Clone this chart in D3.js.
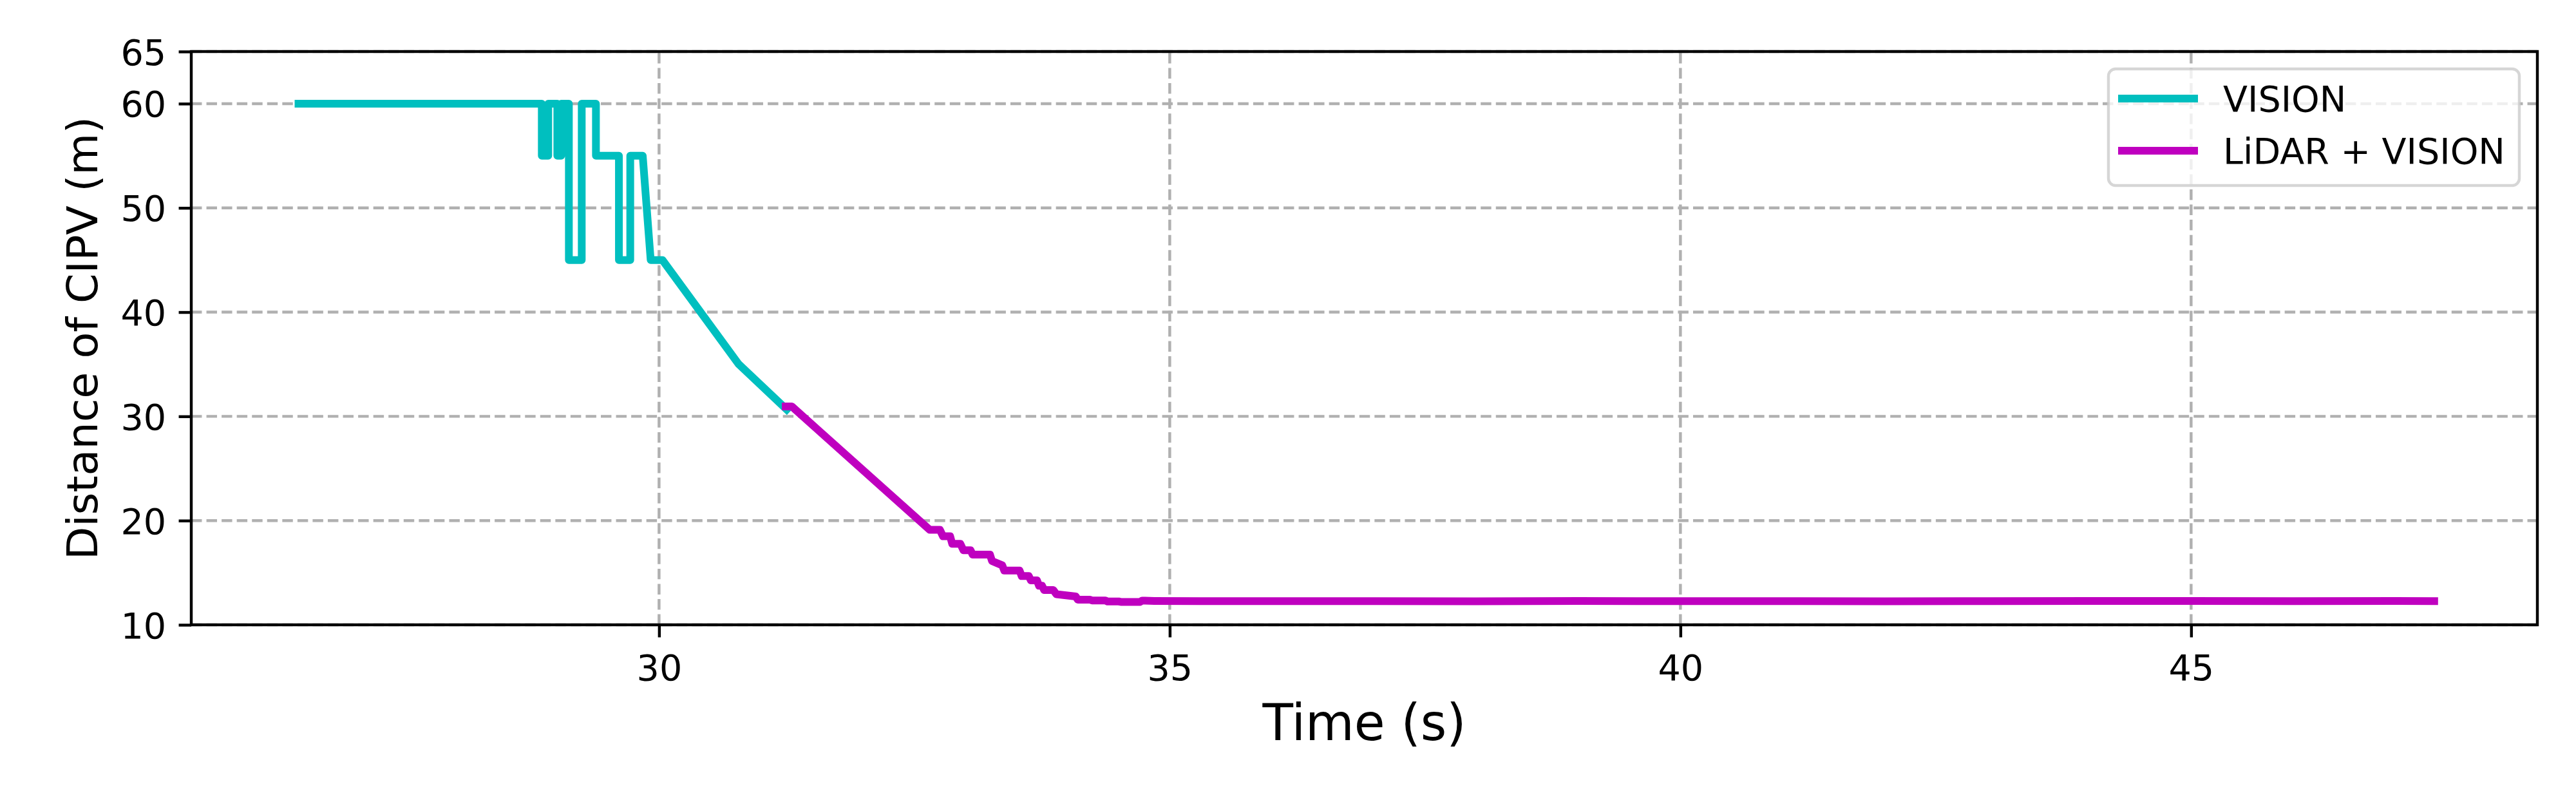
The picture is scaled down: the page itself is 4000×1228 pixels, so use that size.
<!DOCTYPE html>
<html>
<head>
<meta charset="utf-8">
<script src="https://cdn.jsdelivr.net/npm/d3@7"></script>
<style>
  html, body { margin: 0; padding: 0; background: #fff; }
  svg { display: block; font-family: "DejaVu Sans", sans-serif; }
</style>
</head>
<body>
<svg id="chart" width="4000" height="1228"></svg>
<script>
// ---- data ----
const visionTime = [26.47, 28.852, 28.852, 28.915, 28.915, 29.004, 29.004, 29.042, 29.042, 29.117, 29.117, 29.243, 29.243, 29.382, 29.382, 29.607, 29.607, 29.718, 29.718, 29.84, 29.918, 30.033, 30.78, 31.25];
const visionDist = [60, 60, 55, 55, 60, 60, 55, 55, 60, 60, 45, 45, 60, 60, 55, 55, 45, 45, 55, 55, 45, 45, 35.0, 30.65];

const lidarTime = [31.24, 31.30, 32.65, 32.75, 32.78, 32.85, 32.87, 32.95, 32.98, 33.05, 33.07, 33.24, 33.26, 33.36, 33.38, 33.53, 33.55, 33.62, 33.64, 33.70, 33.72, 33.75, 33.77, 33.86, 33.89, 34.08, 34.10, 34.22, 34.24, 34.37, 34.39, 34.50, 34.52, 34.71, 34.73, 34.85, 35.3, 36.0, 37.0, 38.0, 39.0, 40.0, 41.0, 42.0, 43.0, 44.0, 45.0, 46.0, 47.0, 47.38];
const lidarDist = [30.95, 30.95, 19.11, 19.11, 18.49, 18.49, 17.77, 17.77, 17.15, 17.15, 16.74, 16.74, 16.12, 15.71, 15.2, 15.2, 14.68, 14.68, 14.27, 14.27, 13.75, 13.75, 13.34, 13.34, 12.93, 12.72, 12.41, 12.41, 12.33, 12.33, 12.24, 12.24, 12.2, 12.2, 12.32, 12.29, 12.27, 12.27, 12.27, 12.26, 12.28, 12.27, 12.27, 12.26, 12.27, 12.28, 12.28, 12.27, 12.28, 12.27];

const xTicks = [30, 35, 40, 45];
const yTicks = [10, 20, 30, 40, 50, 60, 65];
const seriesNames = ["VISION", "LiDAR + VISION"];
const seriesColors = ["#00bfbf", "#bf00bf"];

// ---- layout ----
const L = 297, R = 3940, T = 80, B = 970;
const px = 400 / 72; // points -> pixels
const tickFont = 10 * px, labelFontY = 12 * px, labelFontX = 14 * px;
const thin = 0.8 * px;

const svg = d3.select("#chart");
const x = d3.scaleLinear().domain([25.42, 48.39]).range([L, R]);
const y = d3.scaleLinear().domain([10, 65]).range([B, T]);

// grid
const grid = svg.append("g").attr("stroke", "#b0b0b0").attr("stroke-width", thin)
  .attr("stroke-dasharray", `${3.7 * thin} ${1.6 * thin}`).attr("fill", "none");
grid.selectAll("line.h").data(yTicks).join("line").attr("class", "h")
  .attr("x1", L).attr("x2", R).attr("y1", d => y(d)).attr("y2", d => y(d));
grid.selectAll("line.v").data(xTicks).join("line").attr("class", "v")
  .attr("x1", d => x(d)).attr("x2", d => x(d)).attr("y1", B).attr("y2", T);

// data lines
const line = d3.line().x(d => x(d[0])).y(d => y(d[1]));
const vision = visionTime.map((t, i) => [t, visionDist[i]]);
const lidar = lidarTime.map((t, i) => [t, lidarDist[i]]);
[vision, lidar].forEach((pts, i) => {
  svg.append("path").attr("d", line(pts)).attr("fill", "none")
    .attr("stroke", seriesColors[i]).attr("stroke-width", 12)
    .attr("stroke-linejoin", "round").attr("stroke-linecap", "square");
});

// axes
const xAxis = svg.append("g").attr("transform", `translate(0,${B})`)
  .call(d3.axisBottom(x).tickValues(xTicks).tickSize(3.5 * px).tickSizeOuter(0).tickFormat(d3.format("d")));
xAxis.select(".domain").remove();
xAxis.selectAll(".tick line").attr("stroke", "#000").attr("stroke-width", thin);
xAxis.selectAll(".tick text").attr("y", 86).attr("dy", null)
  .attr("font-size", tickFont).attr("font-family", "DejaVu Sans").attr("fill", "#000");

const yAxis = svg.append("g").attr("transform", `translate(${L},0)`)
  .call(d3.axisLeft(y).tickValues(yTicks).tickSize(3.5 * px).tickPadding(3.5 * px).tickSizeOuter(0).tickFormat(d3.format("d")));
yAxis.select(".domain").remove();
yAxis.selectAll(".tick line").attr("stroke", "#000").attr("stroke-width", thin);
yAxis.selectAll(".tick text").attr("dy", "0.36em")
  .attr("font-size", tickFont).attr("font-family", "DejaVu Sans").attr("fill", "#000");

// spines
svg.append("rect").attr("x", L).attr("y", T).attr("width", R - L).attr("height", B - T)
  .attr("fill", "none").attr("stroke", "#000").attr("stroke-width", thin);

// axis labels
svg.append("text").attr("x", (L + R) / 2).attr("y", 1149).attr("text-anchor", "middle")
  .attr("font-size", labelFontX).attr("fill", "#000").text("Time (s)");
svg.append("text").attr("transform", `translate(151,${(T + B) / 2}) rotate(-90)`)
  .attr("text-anchor", "middle").attr("font-size", labelFontY).attr("fill", "#000")
  .text("Distance of CIPV (m)");

// legend
const lg = svg.append("g");
lg.append("rect").attr("x", 3274).attr("y", 107).attr("width", 638).attr("height", 181)
  .attr("rx", 11).attr("ry", 11).attr("fill", "rgba(255,255,255,0.8)")
  .attr("stroke", "rgba(204,204,204,0.8)").attr("stroke-width", thin);
seriesNames.forEach((name, i) => {
  const cy = 153 + i * 81;
  lg.append("line").attr("x1", 3289).attr("x2", 3413).attr("y1", cy).attr("y2", cy)
    .attr("stroke", seriesColors[i]).attr("stroke-width", 12);
  lg.append("text").attr("x", 3452).attr("y", cy + 20).attr("font-size", tickFont)
    .attr("fill", "#000").text(name);
});
</script>
</body>
</html>
